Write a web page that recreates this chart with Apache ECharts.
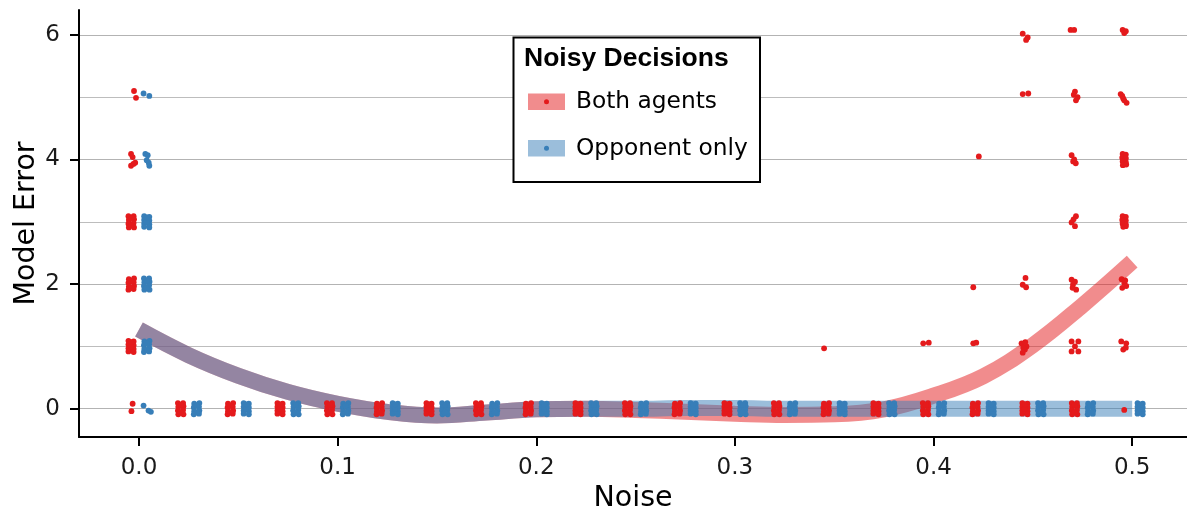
<!DOCTYPE html>
<html><head><meta charset="utf-8">
<script src="https://cdn.jsdelivr.net/npm/echarts@6/dist/echarts.min.js"></script>
<style>html,body{margin:0;padding:0;background:#fff}#chart{width:1187px;height:514px}</style>
</head><body><div id="chart"></div>
<script>
// ---- data ----
const seriesNames = ['Both agents', 'Opponent only'];
const xTicks = [0, 0.1, 0.2, 0.3, 0.4, 0.5];
const yTicks = [0, 2, 4, 6];
const legendTitle = 'Noisy Decisions';
const xTitle = 'Noise';
const yTitle = 'Model Error';

// smoothed trend
const fitNoise = [0, 0.025, 0.05, 0.075, 0.1, 0.125, 0.15, 0.175, 0.2, 0.225, 0.25, 0.275, 0.3, 0.325, 0.35, 0.375, 0.4, 0.425, 0.45, 0.475, 0.5];
const fitBoth = [1.27, 0.86, 0.53, 0.27, 0.08, -0.05, -0.11, -0.06, -0.01, 0.0, -0.02, -0.05, -0.08, -0.10, -0.09, -0.01, 0.21, 0.52, 1.02, 1.66, 2.36];
const fitOpponent = [1.27, 0.86, 0.53, 0.27, 0.08, -0.05, -0.11, -0.06, -0.01, 0.0, 0.0, 0.01, 0.01, 0.0, 0.0, 0.0, 0.0, 0.0, 0.0, 0.0, 0.0];

// jittered observations [noise, model error]
const pointsBoth = [
  [-0.0025,5.10],[-0.0015,4.99],
  [-0.0040,4.09],[-0.0032,4.04],[-0.0019,3.95],[-0.0040,3.90],[-0.0028,3.93],
  [-0.0053,3.09],[-0.0027,3.09],[-0.0051,3.03],[-0.0025,3.04],[-0.0053,2.97],[-0.0027,2.98],[-0.0051,2.91],[-0.0025,2.91],[-0.0038,3.06],[-0.0040,2.94],
  [-0.0051,2.08],[-0.0025,2.09],[-0.0053,2.02],[-0.0027,2.03],[-0.0051,1.96],[-0.0025,1.97],[-0.0053,1.91],[-0.0027,1.92],[-0.0039,2.05],[-0.0038,1.94],
  [-0.0053,1.09],[-0.0027,1.08],[-0.0053,1.03],[-0.0027,1.02],[-0.0053,0.97],[-0.0027,0.96],[-0.0053,0.92],[-0.0027,0.91],[-0.0041,1.00],[-0.0039,1.07],
  [-0.0032,0.08],[-0.0038,-0.04],
  [0.0196,0.09],[0.0222,0.09],[0.0198,0.03],[0.0224,0.04],[0.0196,-0.03],[0.0222,-0.02],[0.0198,-0.09],[0.0224,-0.09],[0.0211,0.06],[0.0209,-0.06],
  [0.0448,0.08],[0.0474,0.09],[0.0446,0.02],[0.0472,0.03],[0.0448,-0.04],[0.0474,-0.03],[0.0446,-0.09],[0.0472,-0.08],[0.0460,0.05],[0.0461,-0.06],
  [0.0697,0.09],[0.0723,0.08],[0.0697,0.03],[0.0723,0.02],[0.0697,-0.03],[0.0723,-0.04],[0.0697,-0.08],[0.0723,-0.09],[0.0709,0.00],[0.0711,0.07],
  [0.0946,0.09],[0.0972,0.09],[0.0948,0.03],[0.0974,0.04],[0.0946,-0.03],[0.0972,-0.02],[0.0948,-0.09],[0.0974,-0.09],[0.0961,0.06],[0.0959,-0.06],
  [0.1198,0.08],[0.1224,0.09],[0.1196,0.02],[0.1222,0.03],[0.1198,-0.04],[0.1224,-0.03],[0.1196,-0.09],[0.1222,-0.08],[0.1210,0.05],[0.1211,-0.06],
  [0.1447,0.09],[0.1473,0.08],[0.1447,0.03],[0.1473,0.02],[0.1447,-0.03],[0.1473,-0.04],[0.1447,-0.08],[0.1473,-0.09],[0.1459,0.00],[0.1461,0.07],
  [0.1696,0.09],[0.1722,0.09],[0.1698,0.03],[0.1724,0.04],[0.1696,-0.03],[0.1722,-0.02],[0.1698,-0.09],[0.1724,-0.09],[0.1711,0.06],[0.1709,-0.06],
  [0.1948,0.08],[0.1974,0.09],[0.1946,0.02],[0.1972,0.03],[0.1948,-0.04],[0.1974,-0.03],[0.1946,-0.09],[0.1972,-0.08],[0.1960,0.05],[0.1961,-0.06],
  [0.2197,0.09],[0.2223,0.08],[0.2197,0.03],[0.2223,0.02],[0.2197,-0.03],[0.2223,-0.04],[0.2197,-0.08],[0.2223,-0.09],[0.2209,0.00],[0.2211,0.07],
  [0.2446,0.09],[0.2472,0.09],[0.2448,0.03],[0.2474,0.04],[0.2446,-0.03],[0.2472,-0.02],[0.2448,-0.09],[0.2474,-0.09],[0.2461,0.06],[0.2459,-0.06],
  [0.2698,0.08],[0.2724,0.09],[0.2696,0.02],[0.2722,0.03],[0.2698,-0.04],[0.2724,-0.03],[0.2696,-0.09],[0.2722,-0.08],[0.2710,0.05],[0.2711,-0.06],
  [0.2947,0.09],[0.2973,0.08],[0.2947,0.03],[0.2973,0.02],[0.2947,-0.03],[0.2973,-0.04],[0.2947,-0.08],[0.2973,-0.09],[0.2959,0.00],[0.2961,0.07],
  [0.3196,0.09],[0.3222,0.09],[0.3198,0.03],[0.3224,0.04],[0.3196,-0.03],[0.3222,-0.02],[0.3198,-0.09],[0.3224,-0.09],[0.3211,0.06],[0.3209,-0.06],
  [0.3448,0.08],[0.3474,0.09],[0.3446,0.02],[0.3472,0.03],[0.3448,-0.04],[0.3474,-0.03],[0.3446,-0.09],[0.3472,-0.08],[0.3460,0.05],[0.3461,-0.06],
  [0.3449,0.97],
  [0.3697,0.09],[0.3723,0.08],[0.3697,0.03],[0.3723,0.02],[0.3697,-0.03],[0.3723,-0.04],[0.3697,-0.08],[0.3723,-0.09],[0.3709,0.00],[0.3711,0.07],
  [0.3946,0.09],[0.3972,0.09],[0.3948,0.03],[0.3974,0.04],[0.3946,-0.03],[0.3972,-0.02],[0.3948,-0.09],[0.3974,-0.09],[0.3961,0.06],[0.3959,-0.06],
  [0.3948,1.05],[0.3976,1.06],
  [0.4198,0.08],[0.4224,0.09],[0.4196,0.02],[0.4222,0.03],[0.4198,-0.04],[0.4224,-0.03],[0.4196,-0.09],[0.4222,-0.08],[0.4210,0.05],[0.4211,-0.06],
  [0.4228,4.05],[0.4200,1.95],[0.4200,1.05],[0.4215,1.06],
  [0.4447,0.09],[0.4473,0.08],[0.4447,0.03],[0.4473,0.02],[0.4447,-0.03],[0.4473,-0.04],[0.4447,-0.08],[0.4473,-0.09],[0.4459,0.00],[0.4461,0.07],
  [0.4449,6.02],[0.4474,5.96],[0.4466,5.92],
  [0.4449,5.05],[0.4477,5.06],
  [0.4463,2.10],[0.4449,1.99],[0.4466,1.95],
  [0.4443,1.05],[0.4468,1.00],[0.4460,0.95],[0.4449,0.90],[0.4462,1.07],[0.4452,0.98],
  [0.4696,0.09],[0.4722,0.09],[0.4698,0.03],[0.4724,0.04],[0.4696,-0.03],[0.4722,-0.02],[0.4698,-0.09],[0.4724,-0.09],[0.4711,0.06],[0.4709,-0.06],
  [0.4690,6.08],[0.4708,6.08],
  [0.4712,5.09],[0.4706,5.04],[0.4725,5.00],[0.4717,4.95],
  [0.4695,4.07],[0.4703,3.97],[0.4716,3.94],[0.4708,4.00],
  [0.4717,3.09],[0.4695,2.99],[0.4712,2.93],[0.4705,3.04],
  [0.4695,2.07],[0.4702,1.99],[0.4718,1.91],[0.4712,2.04],[0.4700,1.94],
  [0.4695,1.08],[0.4729,1.08],[0.4712,1.00],[0.4695,0.92],[0.4729,0.92],
  [0.4952,6.08],[0.4960,6.03],[0.4968,6.06],
  [0.4942,5.05],[0.4955,4.98],[0.4972,4.91],[0.4960,4.95],[0.4950,5.02],
  [0.4952,4.09],[0.4968,4.08],[0.4950,4.03],[0.4968,4.02],[0.4952,3.97],[0.4968,3.96],[0.4953,3.91],[0.4970,3.92],
  [0.4952,3.09],[0.4968,3.08],[0.4950,3.03],[0.4968,3.02],[0.4952,2.97],[0.4968,2.96],[0.4955,2.92],[0.4968,2.93],
  [0.4947,2.08],[0.4960,2.02],[0.4950,1.94],[0.4970,1.97],[0.4965,2.06],
  [0.4945,1.08],[0.4970,1.05],[0.4955,0.95],[0.4968,0.98],
  [0.4960,-0.02]
];
const pointsOpponent = [
  [0.0023,5.06],[0.0052,5.02],
  [0.0032,4.09],[0.0044,4.07],[0.0039,3.99],[0.0049,3.95],[0.0052,3.90],
  [0.0026,3.09],[0.0052,3.08],[0.0026,3.03],[0.0052,3.02],[0.0026,2.97],[0.0052,2.96],[0.0026,2.92],[0.0052,2.91],[0.0038,3.00],[0.0040,3.07],
  [0.0025,2.09],[0.0051,2.09],[0.0027,2.03],[0.0053,2.04],[0.0025,1.97],[0.0051,1.98],[0.0027,1.91],[0.0053,1.91],[0.0040,2.06],[0.0038,1.94],
  [0.0027,1.08],[0.0053,1.09],[0.0025,1.02],[0.0051,1.03],[0.0027,0.96],[0.0053,0.97],[0.0025,0.91],[0.0051,0.92],[0.0039,1.05],[0.0040,0.94],
  [0.0023,0.05],[0.0048,-0.03],[0.0060,-0.05],
  [0.0278,0.08],[0.0304,0.09],[0.0276,0.02],[0.0302,0.03],[0.0278,-0.04],[0.0304,-0.03],[0.0276,-0.09],[0.0302,-0.08],[0.0290,0.05],[0.0291,-0.06],
  [0.0527,0.09],[0.0553,0.08],[0.0527,0.03],[0.0553,0.02],[0.0527,-0.03],[0.0553,-0.04],[0.0527,-0.08],[0.0553,-0.09],[0.0539,0.00],[0.0541,0.07],
  [0.0776,0.09],[0.0802,0.09],[0.0778,0.03],[0.0804,0.04],[0.0776,-0.03],[0.0802,-0.02],[0.0778,-0.09],[0.0804,-0.09],[0.0791,0.06],[0.0789,-0.06],
  [0.1028,0.08],[0.1054,0.09],[0.1026,0.02],[0.1052,0.03],[0.1028,-0.04],[0.1054,-0.03],[0.1026,-0.09],[0.1052,-0.08],[0.1040,0.05],[0.1041,-0.06],
  [0.1277,0.09],[0.1303,0.08],[0.1277,0.03],[0.1303,0.02],[0.1277,-0.03],[0.1303,-0.04],[0.1277,-0.08],[0.1303,-0.09],[0.1289,0.00],[0.1291,0.07],
  [0.1526,0.09],[0.1552,0.09],[0.1528,0.03],[0.1554,0.04],[0.1526,-0.03],[0.1552,-0.02],[0.1528,-0.09],[0.1554,-0.09],[0.1541,0.06],[0.1539,-0.06],
  [0.1778,0.08],[0.1804,0.09],[0.1776,0.02],[0.1802,0.03],[0.1778,-0.04],[0.1804,-0.03],[0.1776,-0.09],[0.1802,-0.08],[0.1790,0.05],[0.1791,-0.06],
  [0.2027,0.09],[0.2053,0.08],[0.2027,0.03],[0.2053,0.02],[0.2027,-0.03],[0.2053,-0.04],[0.2027,-0.08],[0.2053,-0.09],[0.2039,0.00],[0.2041,0.07],
  [0.2276,0.09],[0.2302,0.09],[0.2278,0.03],[0.2304,0.04],[0.2276,-0.03],[0.2302,-0.02],[0.2278,-0.09],[0.2304,-0.09],[0.2291,0.06],[0.2289,-0.06],
  [0.2528,0.08],[0.2554,0.09],[0.2526,0.02],[0.2552,0.03],[0.2528,-0.04],[0.2554,-0.03],[0.2526,-0.09],[0.2552,-0.08],[0.2540,0.05],[0.2541,-0.06],
  [0.2777,0.09],[0.2803,0.08],[0.2777,0.03],[0.2803,0.02],[0.2777,-0.03],[0.2803,-0.04],[0.2777,-0.08],[0.2803,-0.09],[0.2789,0.00],[0.2791,0.07],
  [0.3026,0.09],[0.3052,0.09],[0.3028,0.03],[0.3054,0.04],[0.3026,-0.03],[0.3052,-0.02],[0.3028,-0.09],[0.3054,-0.09],[0.3041,0.06],[0.3039,-0.06],
  [0.3278,0.08],[0.3304,0.09],[0.3276,0.02],[0.3302,0.03],[0.3278,-0.04],[0.3304,-0.03],[0.3276,-0.09],[0.3302,-0.08],[0.3290,0.05],[0.3291,-0.06],
  [0.3527,0.09],[0.3553,0.08],[0.3527,0.03],[0.3553,0.02],[0.3527,-0.03],[0.3553,-0.04],[0.3527,-0.08],[0.3553,-0.09],[0.3539,0.00],[0.3541,0.07],
  [0.3776,0.09],[0.3802,0.09],[0.3778,0.03],[0.3804,0.04],[0.3776,-0.03],[0.3802,-0.02],[0.3778,-0.09],[0.3804,-0.09],[0.3791,0.06],[0.3789,-0.06],
  [0.4028,0.08],[0.4054,0.09],[0.4026,0.02],[0.4052,0.03],[0.4028,-0.04],[0.4054,-0.03],[0.4026,-0.09],[0.4052,-0.08],[0.4040,0.05],[0.4041,-0.06],
  [0.4277,0.09],[0.4303,0.08],[0.4277,0.03],[0.4303,0.02],[0.4277,-0.03],[0.4303,-0.04],[0.4277,-0.08],[0.4303,-0.09],[0.4289,0.00],[0.4291,0.07],
  [0.4526,0.09],[0.4552,0.09],[0.4528,0.03],[0.4554,0.04],[0.4526,-0.03],[0.4552,-0.02],[0.4528,-0.09],[0.4554,-0.09],[0.4541,0.06],[0.4539,-0.06],
  [0.4778,0.08],[0.4804,0.09],[0.4776,0.02],[0.4802,0.03],[0.4778,-0.04],[0.4804,-0.03],[0.4776,-0.09],[0.4802,-0.08],[0.4790,0.05],[0.4791,-0.06],
  [0.5027,0.09],[0.5053,0.08],[0.5027,0.03],[0.5053,0.02],[0.5027,-0.03],[0.5053,-0.04],[0.5027,-0.08],[0.5053,-0.09],[0.5039,0.00],[0.5041,0.07]
];

// ---- layout & styling ----
const W = 1187, H = 514;
const PLOT = {left: 79, right: 0, top: 10, bottom: 77};
const X_RANGE = [-0.0302, 0.5276];
const Y_RANGE = [-0.454, 6.4];
const RED = '#e41a1c', BLUE = '#377eb8';
const RED_FIT = 'rgba(228,26,28,0.5)', BLUE_FIT = 'rgba(55,126,184,0.5)';
const FONT = '"DejaVu Sans", sans-serif';

// helper grids so that ticks sit exactly on the tick values (no ticks at the padded extent ends)
const plotW = W - PLOT.left - PLOT.right, plotH = H - PLOT.top - PLOT.bottom;
const xPx = v => PLOT.left + (v - X_RANGE[0]) / (X_RANGE[1] - X_RANGE[0]) * plotW;
const yPx = v => PLOT.top + (Y_RANGE[1] - v) / (Y_RANGE[1] - Y_RANGE[0]) * plotH;
const xTickGrid = {left: xPx(xTicks[0]), right: W - xPx(xTicks[xTicks.length - 1]), top: PLOT.top, bottom: PLOT.bottom};
const yTickGrid = {left: PLOT.left, right: PLOT.right, top: yPx(yTicks[yTicks.length - 1]), bottom: H - yPx(yTicks[0])};

const chart = echarts.init(document.getElementById('chart'), null, {renderer: 'canvas'});
const fitPairs = (ys) => fitNoise.map((x, i) => [x, ys[i]]);
const tickStyle = {show: true, length: 9, lineStyle: {color: '#000', width: 2}};
const labelStyle = {fontFamily: FONT, fontSize: 23, color: '#1a1a1a'};

chart.setOption({
  animation: false,
  backgroundColor: '#fff',
  grid: [
    Object.assign({containLabel: false, outerBoundsMode: 'none'}, PLOT),
    Object.assign({containLabel: false, outerBoundsMode: 'none'}, xTickGrid),
    Object.assign({containLabel: false, outerBoundsMode: 'none'}, yTickGrid)
  ],
  xAxis: [
    { // main data axis
      gridIndex: 0, type: 'value', min: X_RANGE[0], max: X_RANGE[1],
      name: xTitle, nameLocation: 'middle', nameGap: 47, nameMoveOverlap: false,
      nameTextStyle: {fontFamily: FONT, fontSize: 28.5, color: '#000'},
      axisLine: {show: true, onZero: false, lineStyle: {color: '#000', width: 2}},
      axisTick: {show: false}, axisLabel: {show: false}, splitLine: {show: false}
    },
    { // tick + label axis
      gridIndex: 1, type: 'value', min: xTicks[0], max: xTicks[xTicks.length - 1], interval: 0.1,
      axisLine: {show: false}, axisTick: tickStyle,
      axisLabel: Object.assign({margin: 20, formatter: v => v.toFixed(1)}, labelStyle),
      splitLine: {show: false}
    },
    {gridIndex: 2, type: 'value', show: false}
  ],
  yAxis: [
    { // main data axis: grid lines
      gridIndex: 0, type: 'value', min: Y_RANGE[0], max: Y_RANGE[1], splitNumber: 3,
      name: yTitle, nameLocation: 'middle', nameGap: 38, nameRotate: 90, nameMoveOverlap: false,
      nameTextStyle: {fontFamily: FONT, fontSize: 28.5, color: '#000'},
      axisLine: {show: true, onZero: false, lineStyle: {color: '#000', width: 2}},
      axisTick: {show: false}, axisLabel: {show: false},
      splitLine: {show: true, showMinLine: false, showMaxLine: false, lineStyle: {color: '#b3b3b3', width: 1}},
      minorTick: {show: false, splitNumber: 2},
      minorSplitLine: {show: true, lineStyle: {color: '#bdbdbd', width: 1}}
    },
    {gridIndex: 1, type: 'value', show: false},
    { // tick + label axis
      gridIndex: 2, type: 'value', min: yTicks[0], max: yTicks[yTicks.length - 1], interval: 2,
      axisLine: {show: false}, axisTick: tickStyle,
      axisLabel: Object.assign({margin: 19}, labelStyle),
      splitLine: {show: false}
    }
  ],
  series: [
    {name: seriesNames[0] + ' trend', type: 'line', data: fitPairs(fitBoth), smooth: 0.4,
      xAxisIndex: 0, yAxisIndex: 0,
      showSymbol: false, symbol: 'none', silent: true, z: 2,
      lineStyle: {color: RED_FIT, width: 16, cap: 'butt'}},
    {name: seriesNames[1] + ' trend', type: 'line', data: fitPairs(fitOpponent), smooth: 0.4,
      xAxisIndex: 0, yAxisIndex: 0,
      showSymbol: false, symbol: 'none', silent: true, z: 3,
      lineStyle: {color: BLUE_FIT, width: 16, cap: 'butt'}},
    {name: seriesNames[0], type: 'scatter', data: pointsBoth, symbolSize: 5.8, z: 4,
      xAxisIndex: 0, yAxisIndex: 0,
      itemStyle: {color: RED, opacity: 1}},
    {name: seriesNames[1], type: 'scatter', data: pointsOpponent, symbolSize: 5.8, z: 5,
      xAxisIndex: 0, yAxisIndex: 0,
      itemStyle: {color: BLUE, opacity: 1}}
  ],
  graphic: [
    {type: 'rect', z: 100, shape: {x: 513.5, y: 37.5, width: 246.5, height: 144.5},
      style: {fill: '#fff', stroke: '#000', lineWidth: 2}},
    {type: 'text', z: 101, x: 524, y: 59,
      style: {text: legendTitle, font: 'bold 26.5px "Liberation Sans", Arial, sans-serif', fill: '#000', verticalAlign: 'middle', align: 'left'}},
    {type: 'rect', z: 101, shape: {x: 528, y: 93.5, width: 37, height: 16.5}, style: {fill: RED_FIT}},
    {type: 'circle', z: 102, shape: {cx: 546.5, cy: 101.7, r: 2.5}, style: {fill: RED}},
    {type: 'text', z: 101, x: 576, y: 102,
      style: {text: seriesNames[0], font: '23.3px "DejaVu Sans", sans-serif', fill: '#000', verticalAlign: 'middle', align: 'left'}},
    {type: 'rect', z: 101, shape: {x: 528, y: 140, width: 37, height: 16.5}, style: {fill: BLUE_FIT}},
    {type: 'circle', z: 102, shape: {cx: 546.5, cy: 148.2, r: 2.5}, style: {fill: BLUE}},
    {type: 'text', z: 101, x: 576, y: 148.5,
      style: {text: seriesNames[1], font: '23.3px "DejaVu Sans", sans-serif', fill: '#000', verticalAlign: 'middle', align: 'left'}}
  ]
});
</script>
</body></html>
